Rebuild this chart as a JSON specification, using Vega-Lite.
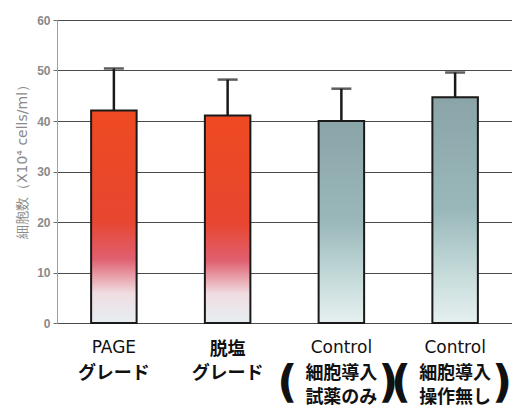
{
  "$schema": "https://vega.github.io/schema/vega-lite/v6.json",
  "width": 455,
  "height": 303,
  "autosize": {"type": "none"},
  "padding": {"left": 57, "top": 20, "right": 0, "bottom": 84},
  "background": "white",
  "config": {"view": {"stroke": null}},
  "datasets": {
    "bars": [
      {"cat": "PAGE", "group": "red", "mean": 42.1, "upper": 50.4},
      {"cat": "脱塩", "group": "red", "mean": 41.1, "upper": 48.2},
      {"cat": "Control A", "group": "teal", "mean": 40.0, "upper": 46.4},
      {"cat": "Control B", "group": "teal", "mean": 44.7, "upper": 49.6}
    ],
    "labels": [
      {"cat": "PAGE", "line": 1, "text": "PAGE"},
      {"cat": "PAGE", "line": 2, "text": "グレード"},
      {"cat": "脱塩", "line": 1, "text": "脱塩"},
      {"cat": "脱塩", "line": 2, "text": "グレード"},
      {"cat": "Control A", "line": 1, "text": "Control"},
      {"cat": "Control A", "line": 2, "text": "細胞導入"},
      {"cat": "Control A", "line": 3, "text": "試薬のみ"},
      {"cat": "Control B", "line": 1, "text": "Control"},
      {"cat": "Control B", "line": 2, "text": "細胞導入"},
      {"cat": "Control B", "line": 3, "text": "操作無し"}
    ]
  },
  "encoding": {
    "x": {
      "field": "cat",
      "type": "nominal",
      "sort": ["PAGE", "脱塩", "Control A", "Control B"],
      "scale": {"paddingInner": 0.6, "paddingOuter": 0.3},
      "axis": null
    }
  },
  "layer": [
    {
      "data": {"name": "bars"},
      "encoding": {
        "y": {
          "field": "mean",
          "type": "quantitative",
          "scale": {"domain": [0, 60]},
          "axis": {
            "title": "細胞数（X10⁴ cells/ml）",
            "values": [0, 10, 20, 30, 40, 50, 60],
            "grid": true,
            "gridColor": "#4a4a4a",
            "gridWidth": 1,
            "domainColor": "#a0a0a0",
            "tickColor": "#6a6a6a",
            "tickSize": 4,
            "labelPadding": 3,
            "labelColor": "#8a8a8a",
            "labelFont": "Liberation Sans",
            "labelFontSize": 12,
            "labelFontWeight": "bold",
            "titleColor": "#8a8a8a",
            "titleFont": "DejaVu Sans",
            "titleFontSize": 14,
            "titleFontWeight": "normal",
            "titleX": -35,
            "titleY": 138,
            "titleAngle": -90,
            "titleAlign": "center",
            "titleBaseline": "middle"
          }
        }
      },
      "layer": [
        {
          "transform": [{"filter": "datum.group === 'red'"}],
          "mark": {
            "type": "bar",
            "stroke": "#1a1a1a",
            "strokeWidth": 2,
            "color": {
              "gradient": "linear",
              "x1": 0, "y1": 0, "x2": 0, "y2": 1,
              "stops": [
                {"offset": 0, "color": "#ee4a22"},
                {"offset": 0.52, "color": "#e84630"},
                {"offset": 0.7, "color": "#e06070"},
                {"offset": 0.86, "color": "#f0dde2"},
                {"offset": 1, "color": "#e6eef2"}
              ]
            }
          }
        },
        {
          "transform": [{"filter": "datum.group === 'teal'"}],
          "mark": {
            "type": "bar",
            "stroke": "#1a1a1a",
            "strokeWidth": 2,
            "color": {
              "gradient": "linear",
              "x1": 0, "y1": 0, "x2": 0, "y2": 1,
              "stops": [
                {"offset": 0, "color": "#8aa4a8"},
                {"offset": 0.5, "color": "#9ab8ba"},
                {"offset": 0.8, "color": "#c8dddc"},
                {"offset": 1, "color": "#e6f0f0"}
              ]
            }
          }
        },
        {
          "mark": {"type": "rule", "color": "#1a1a1a", "strokeWidth": 2.5},
          "encoding": {"y2": {"field": "upper"}}
        },
        {
          "mark": {"type": "tick", "color": "#1a1a1a", "thickness": 2.5, "size": 20},
          "encoding": {"y": {"field": "upper", "type": "quantitative"}}
        }
      ]
    },
    {
      "data": {"name": "labels"},
      "encoding": {
        "y": {
          "field": "line",
          "type": "quantitative",
          "scale": {"domain": [1, 3], "range": [328, 376]},
          "axis": null
        },
        "text": {"field": "text"}
      },
      "layer": [
        {
          "transform": [{"filter": "test(/^[A-Za-z]/, datum.text)"}],
          "mark": {"type": "text", "font": "DejaVu Sans", "fontSize": 17, "color": "#111111", "baseline": "middle"}
        },
        {
          "transform": [{"filter": "!test(/^[A-Za-z]/, datum.text)"}],
          "mark": {"type": "text", "font": "Noto Sans CJK JP", "fontWeight": "bold", "fontSize": 18, "color": "#111111", "baseline": "middle", "dy": 2}
        },
        {
          "transform": [{"filter": "datum.line == 2 && test(/^Control/, datum.cat)"}],
          "mark": {"type": "text", "font": "DejaVu Sans", "fontWeight": "bold", "fontSize": 44, "dx": -54, "dy": 12, "color": "#111111", "baseline": "middle"},
          "encoding": {"text": {"value": "("}}
        },
        {
          "transform": [{"filter": "datum.line == 2 && test(/^Control/, datum.cat)"}],
          "mark": {"type": "text", "font": "DejaVu Sans", "fontWeight": "bold", "fontSize": 44, "dx": 47, "dy": 12, "color": "#111111", "baseline": "middle"},
          "encoding": {"text": {"value": ")"}}
        }
      ]
    }
  ],
  "resolve": {"scale": {"y": "independent"}}
}
